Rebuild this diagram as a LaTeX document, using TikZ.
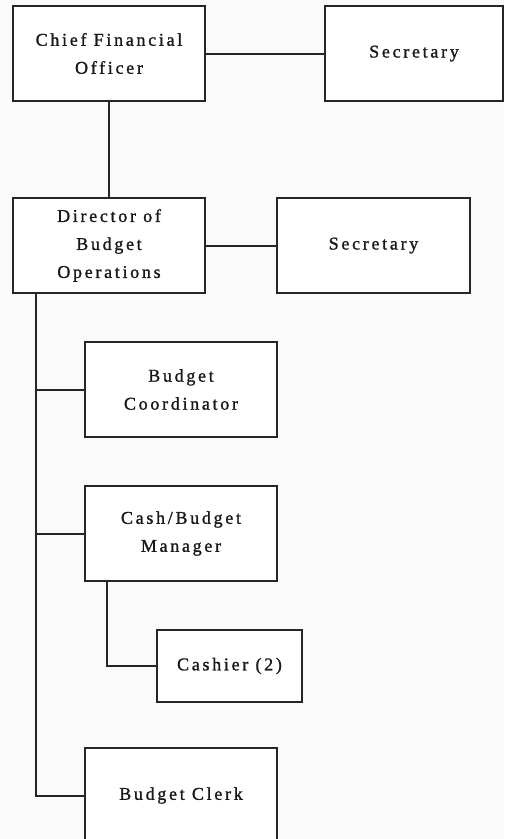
\documentclass[tikz,border=0pt]{standalone}
\usepackage{fontspec}
\setmainfont{Liberation Serif}[LetterSpace=15, FakeBold=1.2]
\begin{document}
\begin{tikzpicture}[x=1pt,y=-1pt,
  line width=2pt,
  box/.style={draw=black!85, fill=white, minimum width=192pt, minimum height=95pt,
    inner sep=0pt, align=center, text=black!90,
    font=\fontsize{18}{28}\selectfont},
  link/.style={draw=black!85, line width=2pt}]
  % page
  \fill[black!2] (0,0) rectangle (504,839);
  \useasboundingbox (0,0) rectangle (504,839);

  % positions
  \node[box] (cfo) at (109,53.5) {Chief Financial\\Officer};
  \node[box, minimum width=178pt] (sec1) at (414,53.5) {Secretary};
  \node[box] (dir) at (109,245.5) {Director of\\Budget\\Operations};
  \node[box, minimum width=193pt] (sec2) at (373.5,245.5) {Secretary};
  \node[box] (coord) at (181,389.5) {Budget\\Coordinator};
  \node[box] (mgr) at (181,533.5) {Cash/Budget\\Manager};
  \node[box, minimum width=145pt, minimum height=72pt] (cash) at (229.5,666) {Cashier (2)};
  \node[box] (clerk) at (181,795.5) {Budget Clerk};

  % trunk start points under the parent boxes
  \coordinate (dtrunk) at ([xshift=24pt]dir.south west);
  \coordinate (mtrunk) at ([xshift=23pt]mgr.south west);

  % connectors
  \draw[link] (cfo) -- (sec1);
  \draw[link] (cfo.south) -- (dir.north);
  \draw[link] (dir) -- (sec2);
  \draw[link] (dtrunk) |- (coord.west);
  \draw[link] (dtrunk) |- (mgr.west);
  \draw[link] (dtrunk) |- (clerk.west);
  \draw[link] (mtrunk) |- (cash.west);
\end{tikzpicture}
\end{document}
